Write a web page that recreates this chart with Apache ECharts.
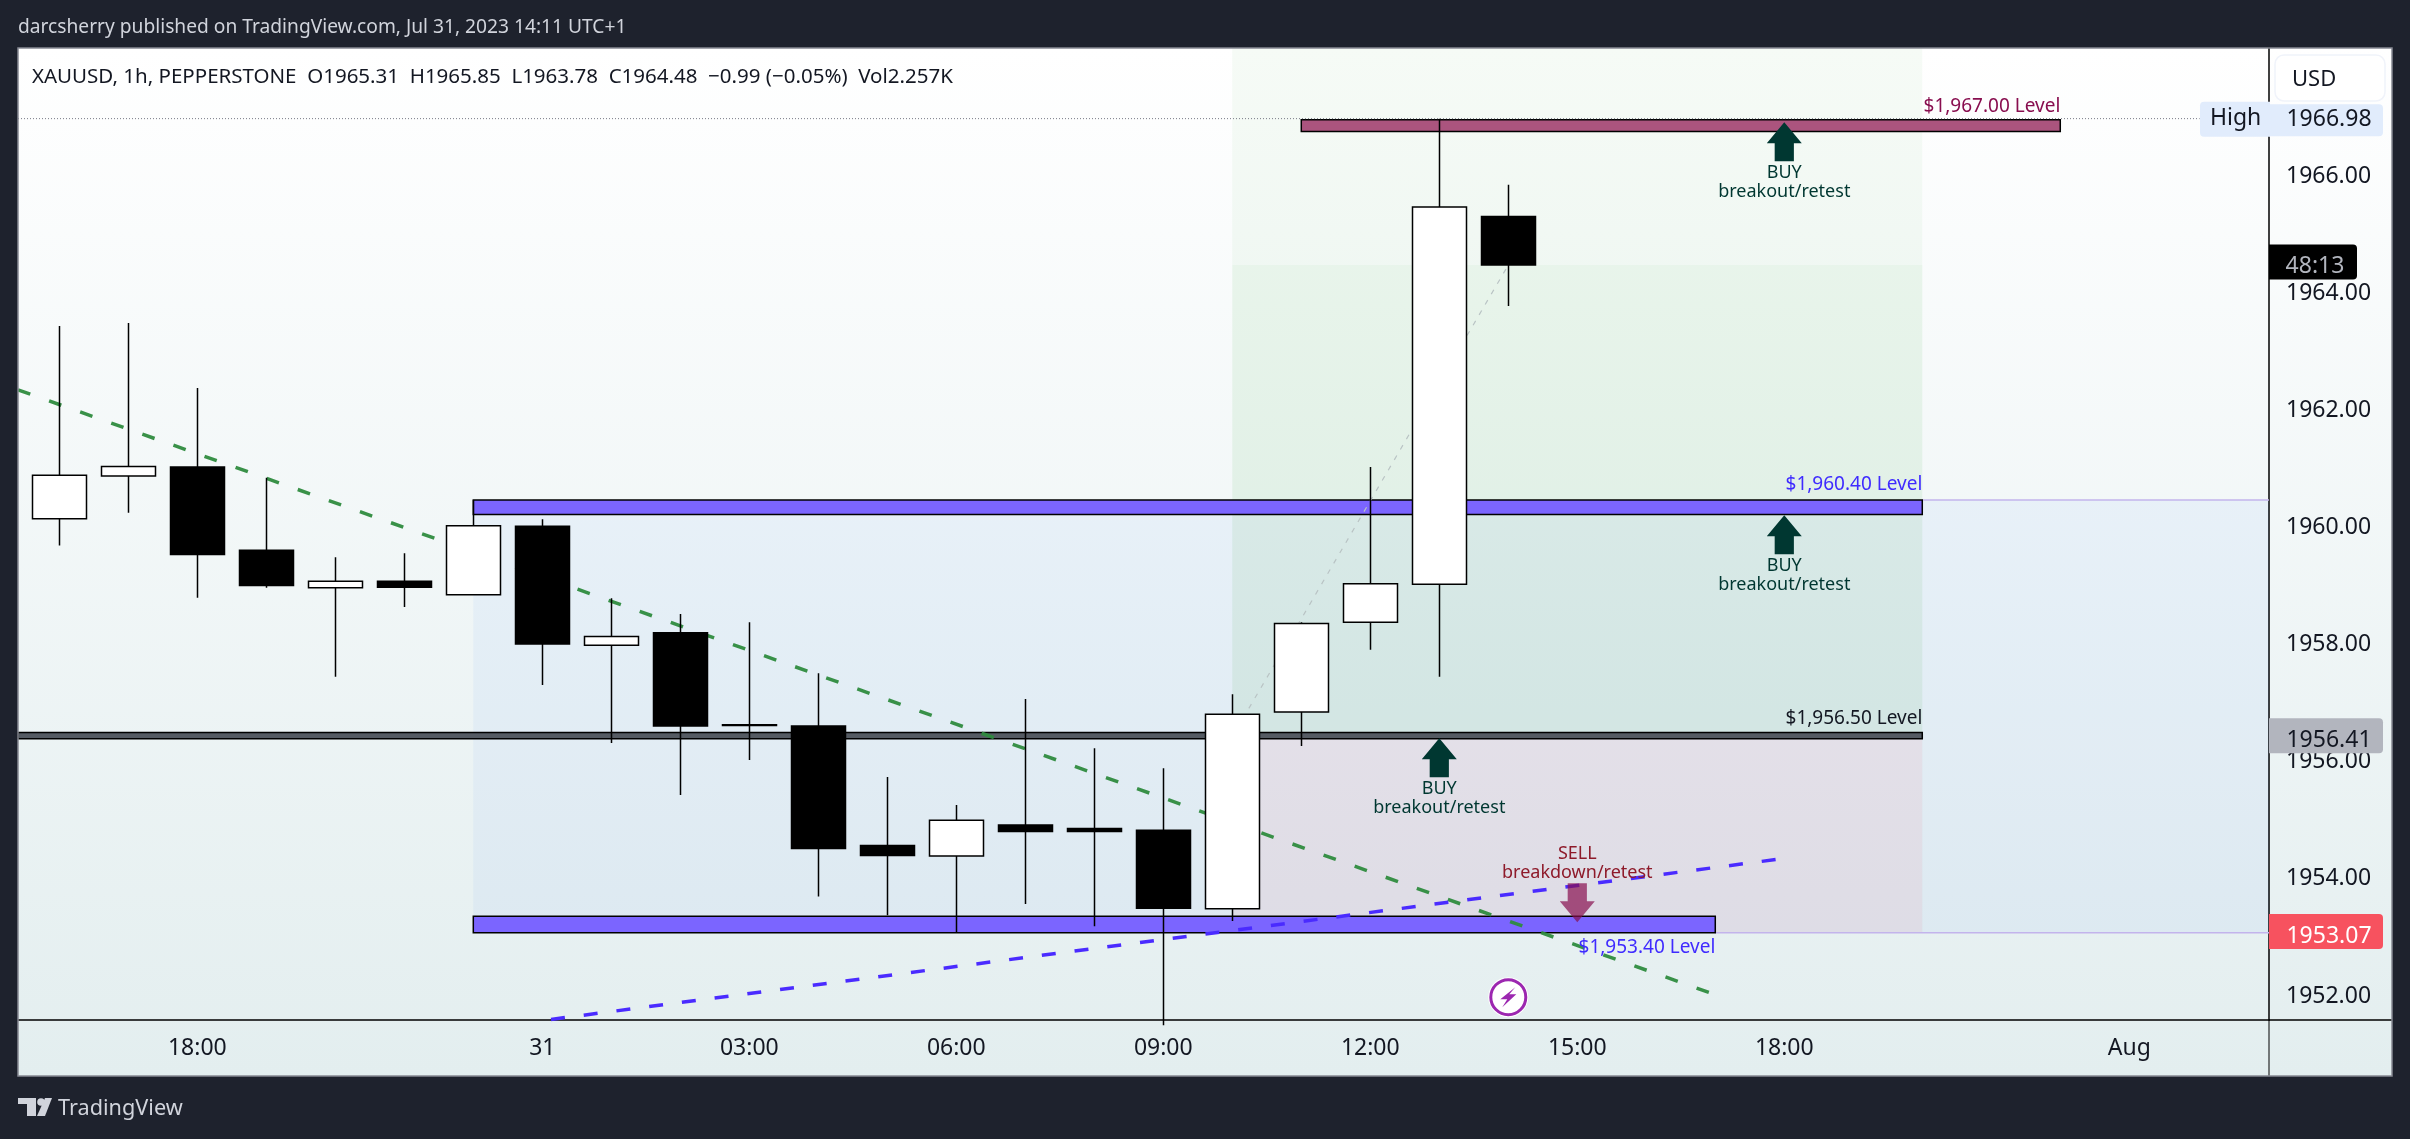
<!DOCTYPE html>
<html><head><meta charset="utf-8">
<style>html,body{margin:0;padding:0;background:#1e222d}#c{width:2410px;height:1139px}</style>
<script src="https://cdn.jsdelivr.net/npm/echarts@6/dist/echarts.min.js"></script>
</head><body><div id="c"></div>
<script>
// ---- data ----
const barIndex = [0,1,2,3,4,5,6,7,8,9,10,11,12,13,14,15,16,17,18,19,20,21];
const opens  = [1960.15,1960.88,1961.03,1959.61,1958.97,1959.08,1958.85,1960.02,1957.99,1958.20,1956.63,1956.61,1954.57,1954.39,1954.92,1954.86,1954.83,1953.49,1956.85,1958.38,1959.03,1965.31];
const closes = [1960.89,1961.04,1959.54,1959.01,1959.08,1958.98,1960.03,1958.01,1958.14,1956.61,1956.62,1954.52,1954.40,1955.00,1954.81,1954.81,1953.50,1956.81,1958.36,1959.04,1965.47,1964.48];
const lows   = [1959.69,1960.25,1958.80,1958.97,1957.45,1958.64,1958.85,1957.31,1956.32,1955.43,1956.03,1953.70,1953.38,1953.09,1953.57,1953.19,1951.50,1953.28,1956.27,1957.91,1957.45,1963.78];
const highs  = [1963.44,1963.49,1962.38,1960.85,1959.49,1959.56,1960.47,1960.14,1958.79,1958.52,1958.38,1957.51,1955.74,1955.26,1957.07,1956.23,1955.89,1957.15,1958.38,1961.03,1966.98,1965.85];
const xTickBars = [2,7,10,13,16,19,22,25,30];
const xTickLabels = ['18:00','31','03:00','06:00','09:00','12:00','15:00','18:00','Aug'];
const yTicks = [1952,1954,1956,1958,1960,1962,1964,1966];
const xMin = -0.5986, xMax = 32.025, yMin = 1951.59, yMax = 1968.186;
// zones: [x0, price0, x1, price1]
const blueZone = [[6,1953.08,xMax,1960.47]];
const greenZoneUpper = [[17,1956.50,27,yMax]];
const greenZoneLower = [[17,1956.50,27,1964.48]];
const mauveZone = [[17,1953.08,27,1956.39]];
const violetBands = [[6,1960.22,27,1960.47],[6,1953.08,24,1953.36]];
const greyBand = [[xMin,1956.39,27,1956.50]];
const magentaBand = [[18,1966.76,29,1966.96]];
const greenTrend = [[xMin,1962.35],[23.91,1952.06]];
const blueTrend = [[7.126,1951.60],[24.88,1954.33]];
const faintTrend = [[17.24,1956.91],[21,1964.48]];
const highLine = [[xMin,1966.98],[31.02,1966.98]];
const zoneEdgeUpper = [[27,1960.47],[xMax,1960.47]];
const zoneEdgeLower = [[24,1953.08],[xMax,1953.08]];
// level captions: [x, price, text]
const levelTexts = [[29,1967.19,'$1,967.00 Level'],[27,1960.73,'$1,960.40 Level'],[27,1956.73,'$1,956.50 Level'],[24,1952.82,'$1,953.40 Level']];
// signals: [x, tip price, direction, first line, second line]
const signals = [[25,1966.92,'up','BUY','breakout/retest'],[25,1960.21,'up','BUY','breakout/retest'],[20,1956.40,'up','BUY','breakout/retest'],[22,1953.26,'down','SELL','breakdown/retest']];
const boltEvent = [[21,1951.98]];
// price tags: [price, text]
const priceTags = [[1966.98,'1966.98'],[1964.48,'48:13'],[1956.39,'1956.41'],[1953.05,'1953.07']];

// ---- styles ----
const FONT = '"Noto Sans", sans-serif';
const levelColors = {'$1,967.00 Level':'#880e4f','$1,960.40 Level':'#3f2bff','$1,956.50 Level':'#131722','$1,953.40 Level':'#3f2bff'};
const tagStyle = {
 '1966.98':{fill:'#e1ecfc',text:'#131722',w:114,cx:60,h:29,dy:3,ty:0.5},
 '48:13':{fill:'#000000',text:'#b2b5be',w:88,cx:46,h:35,dy:0,ty:1.5},
 '1956.41':{fill:'#b2b5be',text:'#131722',w:114,cx:60,h:35,dy:0,ty:2},
 '1953.07':{fill:'#f7525f',text:'#ffffff',w:114,cx:60,h:35,dy:0,ty:1.5}
};
const rectSeries = (name,rows,style,z)=>({
  type:'custom',name,z,silent:true,
  data:rows,encode:{x:[0,2],y:[1,3]},
  renderItem(p,api){
    const r=rows[p.dataIndex],a=api.coord([r[0],r[3]]),b=api.coord([r[2],r[1]]);
    return {type:'rect',shape:{x:a[0],y:a[1],width:b[0]-a[0],height:b[1]-a[1]},style};
  }
});
const lineSeries = (name,pts,color,width,dash,z,opacity)=>({
  type:'line',name,z,silent:true,data:pts,symbol:'none',clip:true,
  lineStyle:{color,width,type:dash,opacity:opacity==null?1:opacity,cap:'butt'}
});
const chart = echarts.init(document.getElementById('c'),null,{renderer:'canvas'});
const txt=(text,x,y,font,fill,extra)=>({type:'text',x,y,z:30,style:Object.assign({text,font,fill,textVerticalAlign:'middle'},extra||{})});
chart.setOption({
  animation:false,
  backgroundColor:'#1e222d',
  grid:{left:18,top:48,width:2251,height:972,containLabel:false},
  xAxis:{type:'value',min:xMin,max:xMax,
    splitLine:{show:false},
    axisLine:{show:true,onZero:false,lineStyle:{color:'#000',width:1.5}},
    axisTick:{show:false},
    axisLabel:{customValues:xTickBars,margin:17,color:'#131722',fontFamily:'"Noto Sans", sans-serif',fontSize:23,
      formatter:v=>xTickLabels[xTickBars.indexOf(v)]||''}},
  yAxis:{type:'value',position:'right',min:yMin,max:yMax,scale:true,
    splitLine:{show:false},
    axisLine:{show:true,onZero:false,lineStyle:{color:'#000',width:1.5}},
    axisTick:{show:false},
    axisLabel:{customValues:yTicks,margin:17,color:'#131722',fontFamily:'"Noto Sans", sans-serif',fontSize:23,padding:[3,0,0,0],
      formatter:v=>v.toFixed(2)}},
  graphic:[
    {type:'rect',z:-20,shape:{x:18,y:48,width:2374,height:1028},
      style:{fill:new echarts.graphic.LinearGradient(0,0,0,1,[{offset:0,color:'#ffffff'},{offset:1,color:'#e3eeef'}])}},
    {type:'rect',z:40,shape:{x:18,y:48,width:2374,height:1028},style:{fill:'transparent',stroke:'#868993',lineWidth:1.5}},
    {type:'line',z:-5,shape:{x1:2269,y1:1020,x2:2392,y2:1020},style:{stroke:'#000',lineWidth:1.5}},
    {type:'line',z:-5,shape:{x1:2269,y1:1020,x2:2269,y2:1076},style:{stroke:'#000',lineWidth:1}},
    txt('darcsherry published on TradingView.com, Jul 31, 2023 14:11 UTC+1',18,28,'19.2px '+FONT,'#d1d4dc'),
    txt('XAUUSD, 1h, PEPPERSTONE  O1965.31  H1965.85  L1963.78  C1964.48  \u22120.99 (\u22120.05%)  Vol2.257K',32,77,'20.5px '+FONT,'#131722'),
    {type:'rect',z:30,shape:{x:2275,y:55,width:110,height:46,r:9},style:{fill:'#ffffff',stroke:'#f0f3fa',lineWidth:1.5}},
    txt('USD',2292,80,'22px '+FONT,'#131722'),
    txt('TradingView',58,1109,'21.7px '+FONT,'#d1d4dc'),
    {type:'polygon',z:30,shape:{points:[[18,1098],[36,1098],[36,1116],[27,1116],[27,1104],[18,1104]]},style:{fill:'#d1d4dc'}},
    {type:'circle',z:30,shape:{cx:41,cy:1102,r:3.8},style:{fill:'#d1d4dc'}},
    {type:'polygon',z:30,shape:{points:[[45,1098],[52,1098],[45,1116],[37,1116]]},style:{fill:'#d1d4dc'}}
  ],
  series:[
    rectSeries('blueZone',blueZone,{fill:'rgba(33,110,255,0.05)'},1),
    rectSeries('greenZoneUpper',greenZoneUpper,{fill:'rgba(76,175,80,0.05)'},1),
    rectSeries('greenZoneLower',greenZoneLower,{fill:'rgba(76,175,80,0.045)'},1),
    rectSeries('mauveZone',mauveZone,{fill:'rgba(235,50,90,0.07)'},1),
    lineSeries('edgeU',zoneEdgeUpper,'#c3b4ec',1.5,'solid',1),
    lineSeries('edgeL',zoneEdgeLower,'#c3b4ec',1.5,'solid',1),
    rectSeries('violetBands',violetBands,{fill:'#7b65ff',stroke:'#000',lineWidth:1.5},2),
    rectSeries('greyBand',greyBand,{fill:'#555b63',stroke:'#000',lineWidth:1.5},2),
    rectSeries('magentaBand',magentaBand,{fill:'#ab547e',stroke:'#000',lineWidth:1.5},2),
    lineSeries('green trend',greenTrend,'#2e8b3e',3.5,[13,20],3,0.95),
    lineSeries('blue trend',blueTrend,'#4a2bff',3.5,[14,19],3),
    lineSeries('faint',faintTrend,'#b9c3c4',1.2,[5,7],3),
    lineSeries('high',highLine,'#787b86',1,[1,2],3),
    {type:'candlestick',name:'XAUUSD',z:4,silent:true,
      barWidth:54,
      dimensions:['x','open','close','lowest','highest'],
      encode:{x:0,y:[1,2,3,4]},
      data:barIndex.map(i=>[i,opens[i],closes[i],lows[i],highs[i]]),
      itemStyle:{color:'#ffffff',color0:'#000000',borderColor:'#000000',borderColor0:'#000000',borderColorDoji:'#000000',borderWidth:1.5}},
    {type:'custom',name:'signals',z:5,silent:true,clip:false,data:signals.map(s=>[s[0],s[1]]),
      renderItem(p,api){
        const s=signals[p.dataIndex],c=api.coord([s[0],s[1]]),up=s[2]==='up',d=up?1:-1;
        const color=up?'#003731':'rgba(136,14,79,0.7)',tc=up?'#003731':'#8e1a2a';
        const x=c[0],y=c[1];
        const poly=[[x,y],[x+17.5,y+21*d],[x+9.6,y+21*d],[x+9.6,y+39*d],[x-9.6,y+39*d],[x-9.6,y+21*d],[x-17.5,y+21*d]];
        const l1=up?y+51:y-68,l2=up?y+69.5:y-49;
        return {type:'group',children:[
          {type:'polygon',shape:{points:poly},style:{fill:color}},
          {type:'text',x,y:l1,style:{text:s[3],font:'18px '+FONT,fill:tc,align:'center',verticalAlign:'middle'}},
          {type:'text',x,y:l2,style:{text:s[4],font:'18px '+FONT,fill:tc,align:'center',verticalAlign:'middle'}}
        ]};
      }},
    {type:'custom',name:'levels',z:6,silent:true,clip:false,data:levelTexts.map(s=>[s[0],s[1]]),
      renderItem(p,api){
        const s=levelTexts[p.dataIndex],c=api.coord([s[0],s[1]]);
        return {type:'text',x:c[0],y:c[1],style:{text:s[2],font:'19px '+FONT,fill:levelColors[s[2]],align:'right',verticalAlign:'middle'}};
      }},
    {type:'custom',name:'event',z:6,silent:true,clip:false,data:boltEvent,
      renderItem(p,api){
        const c=api.coord(boltEvent[p.dataIndex]),x=c[0],y=c[1];
        return {type:'group',children:[
          {type:'circle',shape:{cx:x,cy:y,r:20},style:{fill:'#ffffff'}},
          {type:'circle',shape:{cx:x,cy:y,r:17.5},style:{fill:'transparent',stroke:'#9c27b0',lineWidth:3}},
          {type:'polygon',shape:{points:[[x+7,y-10],[x-8,y+2],[x-1,y+2],[x-6,y+10],[x+8,y-3],[x+1,y-3]]},style:{fill:'#9c27b0'}}
        ]};
      }},
    {type:'custom',name:'tags',z:7,silent:true,clip:false,data:priceTags.map(t=>[xMax,t[0]]),
      renderItem(p,api){
        const t=priceTags[p.dataIndex],c=api.coord([xMax,t[0]]),st=tagStyle[t[1]];
        const kids=[{type:'rect',shape:{x:c[0],y:c[1]-st.h/2+st.dy-3,width:st.w,height:st.h+(st.dy?3:0),r:[0,4,4,0]},style:{fill:st.fill}}];
        if(t[1]==='1966.98'){
          kids.push({type:'rect',shape:{x:c[0]-69,y:c[1]-17,width:70,height:35,r:[4,0,0,4]},style:{fill:st.fill}});
          kids.push({type:'text',x:c[0]-59,y:c[1],style:{text:'High',font:'23px '+FONT,fill:st.text,verticalAlign:'middle'}});
        }
        kids.push({type:'text',x:c[0]+st.cx,y:c[1]+st.ty,style:{text:t[1],font:'23px '+FONT,fill:st.text,align:'center',verticalAlign:'middle'}});
        return {type:'group',children:kids};
      }}
  ]
});
</script></body></html>
